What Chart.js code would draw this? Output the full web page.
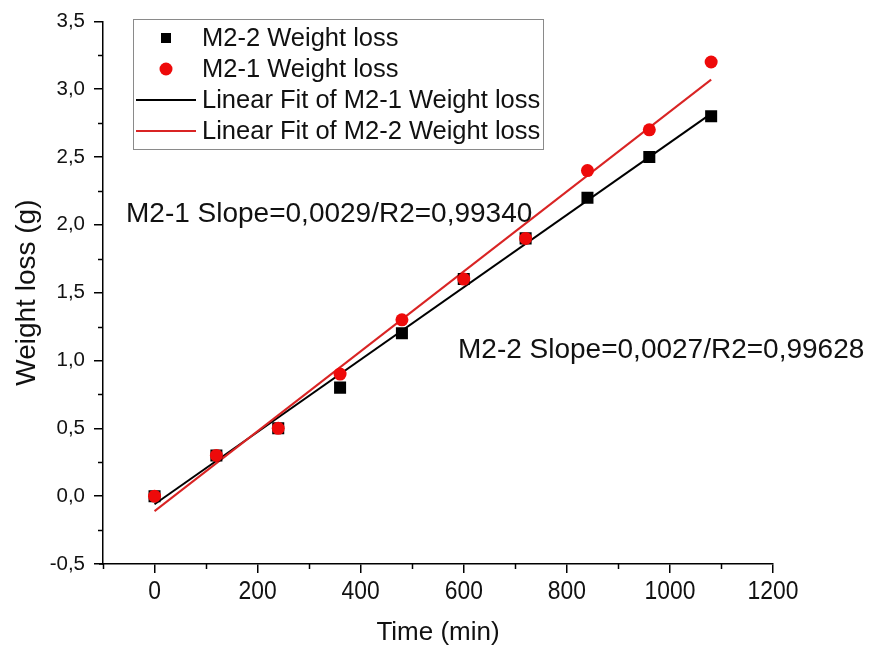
<!DOCTYPE html>
<html>
<head>
<meta charset="utf-8">
<script src="https://cdn.jsdelivr.net/npm/chart.js@4.4.0/dist/chart.umd.min.js"></script>
<style>
  html, body { margin: 0; padding: 0; background: #fff; }
  #wrap { width: 870px; height: 651px; }
</style>
</head>
<body>
<div id="wrap"><canvas id="c" width="870" height="651"></canvas></div>
<script>
// Sampling times (min) and measured weight loss (g)
const timeMin = [0, 120, 240, 360, 480, 600, 720, 840, 960, 1080];
const lossM22 = [0, 0.3, 0.5, 0.8, 1.2, 1.6, 1.9, 2.2, 2.5, 2.8];
const lossM21 = [0, 0.3, 0.5, 0.9, 1.3, 1.6, 1.9, 2.4, 2.7, 3.2];

// Linear fit end points (x = first and last sampling time)
const fitX = [0, 1080];
const fitBlack = [-0.06, 2.82];
const fitRed = [-0.11, 3.07];

// Labelled x ticks
const xTickLabels = [0, 200, 400, 600, 800, 1000, 1200];

const legendLabels = [
  'M2-2 Weight loss',
  'M2-1 Weight loss',
  'Linear Fit of M2-1 Weight loss',
  'Linear Fit of M2-2 Weight loss'
];
const fitNotes = ['M2-1 Slope=0,0029/R2=0,99340', 'M2-2 Slope=0,0027/R2=0,99628'];

const RED_PT = '#ee0a0a';
const RED_LN = '#d92424';
const FONT = "'Liberation Sans', Arial, sans-serif";

const pts = (xs, ys) => xs.map((x, i) => ({ x: x, y: ys[i] }));

// Minor ticks, condensed x labels, boxed legend and fit annotations
const extras = {
  id: 'extras',
  afterDraw(chart) {
    const ctx = chart.ctx;
    const xs = chart.scales.x, ys = chart.scales.y;
    const ca = chart.chartArea;
    ctx.save();
    ctx.strokeStyle = '#000';
    ctx.lineWidth = 1.5;
    // minor ticks
    for (let v = -100; v <= 1200; v += 200) {
      const px = Math.round(xs.getPixelForValue(v)) + 0.5;
      ctx.beginPath(); ctx.moveTo(px, ca.bottom); ctx.lineTo(px, ca.bottom + 5); ctx.stroke();
    }
    for (let v = -0.25; v <= 3.5; v += 0.5) {
      const py = Math.round(ys.getPixelForValue(v)) + 0.5;
      ctx.beginPath(); ctx.moveTo(ca.left, py); ctx.lineTo(ca.left - 5, py); ctx.stroke();
    }
    // short stub of the x axis left of the y axis
    ctx.beginPath(); ctx.moveTo(ca.left - 4, ca.bottom); ctx.lineTo(ca.left, ca.bottom); ctx.stroke();

    // condensed x tick labels
    ctx.fillStyle = '#111';
    ctx.font = '26px ' + FONT;
    ctx.textAlign = 'center';
    ctx.textBaseline = 'middle';
    xTickLabels.forEach(v => {
      ctx.save();
      ctx.translate(xs.getPixelForValue(v), ca.bottom + 28);
      ctx.scale(0.88, 1);
      ctx.fillText(String(v), 0, 0);
      ctx.restore();
    });

    // legend box
    ctx.strokeStyle = '#8a8a8a';
    ctx.lineWidth = 1;
    ctx.strokeRect(133.5, 19.5, 410, 130);
    const rowY = [38, 69, 100, 131];
    ctx.fillStyle = '#000';
    ctx.fillRect(161, rowY[0] - 5, 10, 10);
    ctx.fillStyle = RED_PT;
    ctx.beginPath(); ctx.arc(166, rowY[1], 6.5, 0, Math.PI * 2); ctx.fill();
    ctx.lineWidth = 2;
    ctx.strokeStyle = '#000';
    ctx.beginPath(); ctx.moveTo(136, rowY[2]); ctx.lineTo(196, rowY[2]); ctx.stroke();
    ctx.strokeStyle = RED_LN;
    ctx.beginPath(); ctx.moveTo(136, rowY[3]); ctx.lineTo(196, rowY[3]); ctx.stroke();

    ctx.fillStyle = '#111';
    ctx.textAlign = 'left';
    ctx.font = '25.5px ' + FONT;
    legendLabels.forEach((t, i) => ctx.fillText(t, 202, rowY[i] + 1));

    // fit annotations
    ctx.textBaseline = 'alphabetic';
    ctx.font = '28px ' + FONT;
    ctx.fillText(fitNotes[0], 126, 222);
    ctx.fillText(fitNotes[1], 458, 358);
    ctx.restore();
  }
};

new Chart(document.getElementById('c'), {
  type: 'scatter',
  data: {
    datasets: [
      { label: legendLabels[1], data: pts(timeMin, lossM21), pointStyle: 'circle', pointRadius: 6.5,
        backgroundColor: RED_PT, borderColor: RED_PT, borderWidth: 0, order: 0 },
      { label: legendLabels[0], data: pts(timeMin, lossM22), pointStyle: 'rect', pointRadius: 8.5,
        backgroundColor: '#000', borderColor: '#000', borderWidth: 0, order: 1 },
      { label: legendLabels[3], data: pts(fitX, fitRed), showLine: true, pointRadius: 0,
        borderColor: RED_LN, borderWidth: 2, order: 2 },
      { label: legendLabels[2], data: pts(fitX, fitBlack), showLine: true, pointRadius: 0,
        borderColor: '#000', borderWidth: 2, order: 3 }
    ]
  },
  options: {
    responsive: false,
    animation: false,
    events: [],
    layout: { padding: { top: 20, right: 97, left: 0, bottom: 0 } },
    plugins: { legend: { display: false }, tooltip: { enabled: false } },
    scales: {
      x: {
        type: 'linear', min: -100, max: 1200,
        afterFit: s => { s.height = 87; },
        border: { display: true, color: '#000', width: 1.5 },
        grid: {
          drawOnChartArea: false, tickLength: 9, lineWidth: 1.5,
          color: c => (c.tick && c.tick.value % 200 === 0) ? '#000' : 'rgba(0,0,0,0)'
        },
        ticks: {
          stepSize: 100, autoSkip: false, maxRotation: 0, padding: 6,
          font: { family: FONT, size: 21 },
          callback: () => ''
        },
        title: { display: true, text: 'Time (min)', color: '#111', font: { family: FONT, size: 26 },
                 padding: { top: 0, bottom: 3 } }
      },
      y: {
        type: 'linear', min: -0.5, max: 3.5,
        afterFit: s => { s.width = 103; },
        border: { display: true, color: '#000', width: 1.5 },
        grid: {
          drawOnChartArea: false, tickLength: 9, lineWidth: 1.5,
          color: c => (c.tick && Math.abs(c.tick.value * 2 - Math.round(c.tick.value * 2)) < 1e-9) ? '#000' : 'rgba(0,0,0,0)'
        },
        ticks: {
          stepSize: 0.25, autoSkip: false, padding: 9, color: '#111',
          font: { family: FONT, size: 20.5 },
          callback: v => (Math.abs(v * 2 - Math.round(v * 2)) < 1e-9 ? v.toFixed(1).replace('.', ',') : '')
        },
        title: { display: true, text: 'Weight loss (g)', color: '#111', font: { family: FONT, size: 28 },
                 padding: { top: 10, bottom: 0 } }
      }
    }
  },
  plugins: [extras]
});
</script>
</body>
</html>
